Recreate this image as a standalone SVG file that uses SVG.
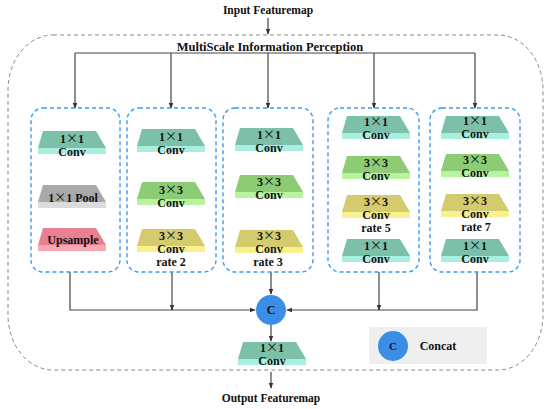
<svg xmlns="http://www.w3.org/2000/svg" xmlns:xlink="http://www.w3.org/1999/xlink" width="550" height="409" viewBox="0 0 550 409">
<style>
.t{font-family:"Liberation Serif","Times New Roman",serif;font-weight:bold;fill:#111;text-anchor:middle}
.s12{font-size:12px}
.x{font-family:"Noto Sans CJK SC","Liberation Serif",sans-serif;font-weight:normal}
.ln{stroke:#444;stroke-width:1.2;fill:none}
.blue{fill:none;stroke:#3d9bf0;stroke-width:1.4;stroke-dasharray:4,3}
.tealT{fill:#7cc0aa}.tealF{fill:#a8efe0}
.grayT{fill:#a9a9a9}.grayF{fill:#dcdcdc}
.pinkT{fill:#e9808f}.pinkF{fill:#f6a8b3}
.greenT{fill:#8dcb74}.greenF{fill:#b8f3a0}
.yelT{fill:#d4cb6e}.yelF{fill:#f8f18e}
</style>
<defs>
<marker id="ah" viewBox="0 0 8 8" refX="7" refY="4" markerWidth="6" markerHeight="6" orient="auto" markerUnits="userSpaceOnUse">
<path d="M0,1 L8,4 L0,7 Z" fill="#333"/>
</marker>
<path id="top" d="M5,0 H58 L68,17 H0 Z"/>
<path id="front" d="M0,17 H68 V23 H0 Z"/>
</defs>

<rect width="550" height="409" fill="#fff"/>

<text class="t" x="268" y="14" font-size="11.5">Input  Featuremap</text>
<rect id="outer" x="8" y="35" width="535" height="335" rx="45" ry="55" fill="none" stroke="#888" stroke-width="1" stroke-dasharray="4,3"/>
<text class="t" x="270" y="51" font-size="12.5">MultiScale Information Perception</text>

<g id="connectors">
<line class="ln" x1="268" y1="18" x2="268" y2="34" marker-end="url(#ah)"/>
<polyline class="ln" points="75,53 475,53"/>
<line class="ln" x1="75" y1="53" x2="75" y2="108" marker-end="url(#ah)"/>
<line class="ln" x1="171" y1="53" x2="171" y2="108" marker-end="url(#ah)"/>
<line class="ln" x1="268" y1="53" x2="268" y2="108" marker-end="url(#ah)"/>
<line class="ln" x1="374" y1="53" x2="374" y2="108" marker-end="url(#ah)"/>
<line class="ln" x1="475" y1="53" x2="475" y2="108" marker-end="url(#ah)"/>
<polyline class="ln" points="70,272 70,310 255,310" marker-end="url(#ah)"/>
<line class="ln" x1="172" y1="272" x2="172" y2="310" marker-end="url(#ah)"/>
<line class="ln" x1="271" y1="272" x2="271" y2="294" marker-end="url(#ah)"/>
<line class="ln" x1="379" y1="272" x2="379" y2="310" marker-end="url(#ah)"/>
<polyline class="ln" points="477,272 477,310 287,310" marker-end="url(#ah)"/>
<line class="ln" x1="271" y1="325" x2="271" y2="341" marker-end="url(#ah)"/>
<line class="ln" x1="271" y1="372" x2="271" y2="388" marker-end="url(#ah)"/>
</g>

<g id="branch1">
<rect class="blue" x="31" y="108" width="89" height="164" rx="12"/>
<g transform="translate(38,131)"><use href="#top" class="tealT"/><use href="#front" class="tealF"/>
<text class="t s12" x="34" y="12">1<tspan class="x">×</tspan>1</text><text class="t s12" x="34" y="25">Conv</text></g>
<g transform="translate(38,185)"><use href="#top" class="grayT"/><use href="#front" class="grayF"/>
<text class="t s12" x="35" y="17">1<tspan class="x">×</tspan>1 Pool</text></g>
<g transform="translate(38,228)"><use href="#top" class="pinkT"/><use href="#front" class="pinkF"/>
<text class="t s12" x="35" y="16">Upsample</text></g>
</g>

<g id="branch2">
<rect class="blue" x="127" y="108" width="89" height="164" rx="12"/>
<g transform="translate(137,129)"><use href="#top" class="tealT"/><use href="#front" class="tealF"/>
<text class="t s12" x="34" y="12">1<tspan class="x">×</tspan>1</text><text class="t s12" x="34" y="25">Conv</text></g>
<g transform="translate(137,182)"><use href="#top" class="greenT"/><use href="#front" class="greenF"/>
<text class="t s12" x="34" y="12">3<tspan class="x">×</tspan>3</text><text class="t s12" x="34" y="25">Conv</text></g>
<g transform="translate(137,229)"><use href="#top" class="yelT"/><use href="#front" class="yelF"/>
<text class="t s12" x="34" y="11">3<tspan class="x">×</tspan>3</text><text class="t s12" x="34" y="24">Conv</text></g>
<text class="t s12" x="171" y="266">rate 2</text>
</g>

<g id="branch3">
<rect class="blue" x="223" y="108" width="90" height="164" rx="12"/>
<g transform="translate(235,128)"><use href="#top" class="tealT"/><use href="#front" class="tealF"/>
<text class="t s12" x="34" y="11">1<tspan class="x">×</tspan>1</text><text class="t s12" x="34" y="24">Conv</text></g>
<g transform="translate(235,175)"><use href="#top" class="greenT"/><use href="#front" class="greenF"/>
<text class="t s12" x="34" y="11">3<tspan class="x">×</tspan>3</text><text class="t s12" x="34" y="24">Conv</text></g>
<g transform="translate(235,230)"><use href="#top" class="yelT"/><use href="#front" class="yelF"/>
<text class="t s12" x="34" y="10">3<tspan class="x">×</tspan>3</text><text class="t s12" x="34" y="23">Conv</text></g>
<text class="t s12" x="268" y="266">rate 3</text>
</g>

<g id="branch4">
<rect class="blue" x="328" y="108" width="91" height="164" rx="12"/>
<g transform="translate(342,116)"><use href="#top" class="tealT"/><use href="#front" class="tealF"/>
<text class="t s12" x="34" y="10">1<tspan class="x">×</tspan>1</text><text class="t s12" x="34" y="23">Conv</text></g>
<g transform="translate(342,156)"><use href="#top" class="greenT"/><use href="#front" class="greenF"/>
<text class="t s12" x="34" y="11">3<tspan class="x">×</tspan>3</text><text class="t s12" x="34" y="24">Conv</text></g>
<g transform="translate(342,195)"><use href="#top" class="yelT"/><use href="#front" class="yelF"/>
<text class="t s12" x="34" y="11">3<tspan class="x">×</tspan>3</text><text class="t s12" x="34" y="24">Conv</text></g>
<text class="t s12" x="376" y="232">rate 5</text>
<g transform="translate(342,239)"><use href="#top" class="tealT"/><use href="#front" class="tealF"/>
<text class="t s12" x="34" y="11">1<tspan class="x">×</tspan>1</text><text class="t s12" x="34" y="24">Conv</text></g>
</g>

<g id="branch5">
<rect class="blue" x="430" y="108" width="90" height="164" rx="12"/>
<g transform="translate(441,116)"><use href="#top" class="tealT"/><use href="#front" class="tealF"/>
<text class="t s12" x="34" y="9">1<tspan class="x">×</tspan>1</text><text class="t s12" x="34" y="22">Conv</text></g>
<g transform="translate(441,154)"><use href="#top" class="greenT"/><use href="#front" class="greenF"/>
<text class="t s12" x="34" y="10">3<tspan class="x">×</tspan>3</text><text class="t s12" x="34" y="23">Conv</text></g>
<g transform="translate(441,194)"><use href="#top" class="yelT"/><use href="#front" class="yelF"/>
<text class="t s12" x="34" y="11">3<tspan class="x">×</tspan>3</text><text class="t s12" x="34" y="24">Conv</text></g>
<text class="t s12" x="476" y="231">rate 7</text>
<g transform="translate(441,239)"><use href="#top" class="tealT"/><use href="#front" class="tealF"/>
<text class="t s12" x="34" y="11">1<tspan class="x">×</tspan>1</text><text class="t s12" x="34" y="24">Conv</text></g>
</g>

<g id="concat">
<circle cx="271" cy="310" r="15" fill="#3a8ee6"/>
<text class="t s12" x="271" y="314">C</text>
</g>

<g id="outconv" transform="translate(238,342)"><use href="#top" class="tealT"/><use href="#front" class="tealF"/>
<text class="t s12" x="34" y="10">1<tspan class="x">×</tspan>1</text><text class="t s12" x="34" y="23">Conv</text></g>

<text class="t" x="271" y="402" font-size="11.5">Output Featuremap</text>

<g id="legend">
<rect x="369" y="327" width="118" height="37" fill="#efefef"/>
<circle cx="393" cy="346" r="15" fill="#3a8ee6"/>
<text class="t" x="393" y="350" font-size="11">C</text>
<text class="t s12" x="438" y="350">Concat</text>
</g>
</svg>
